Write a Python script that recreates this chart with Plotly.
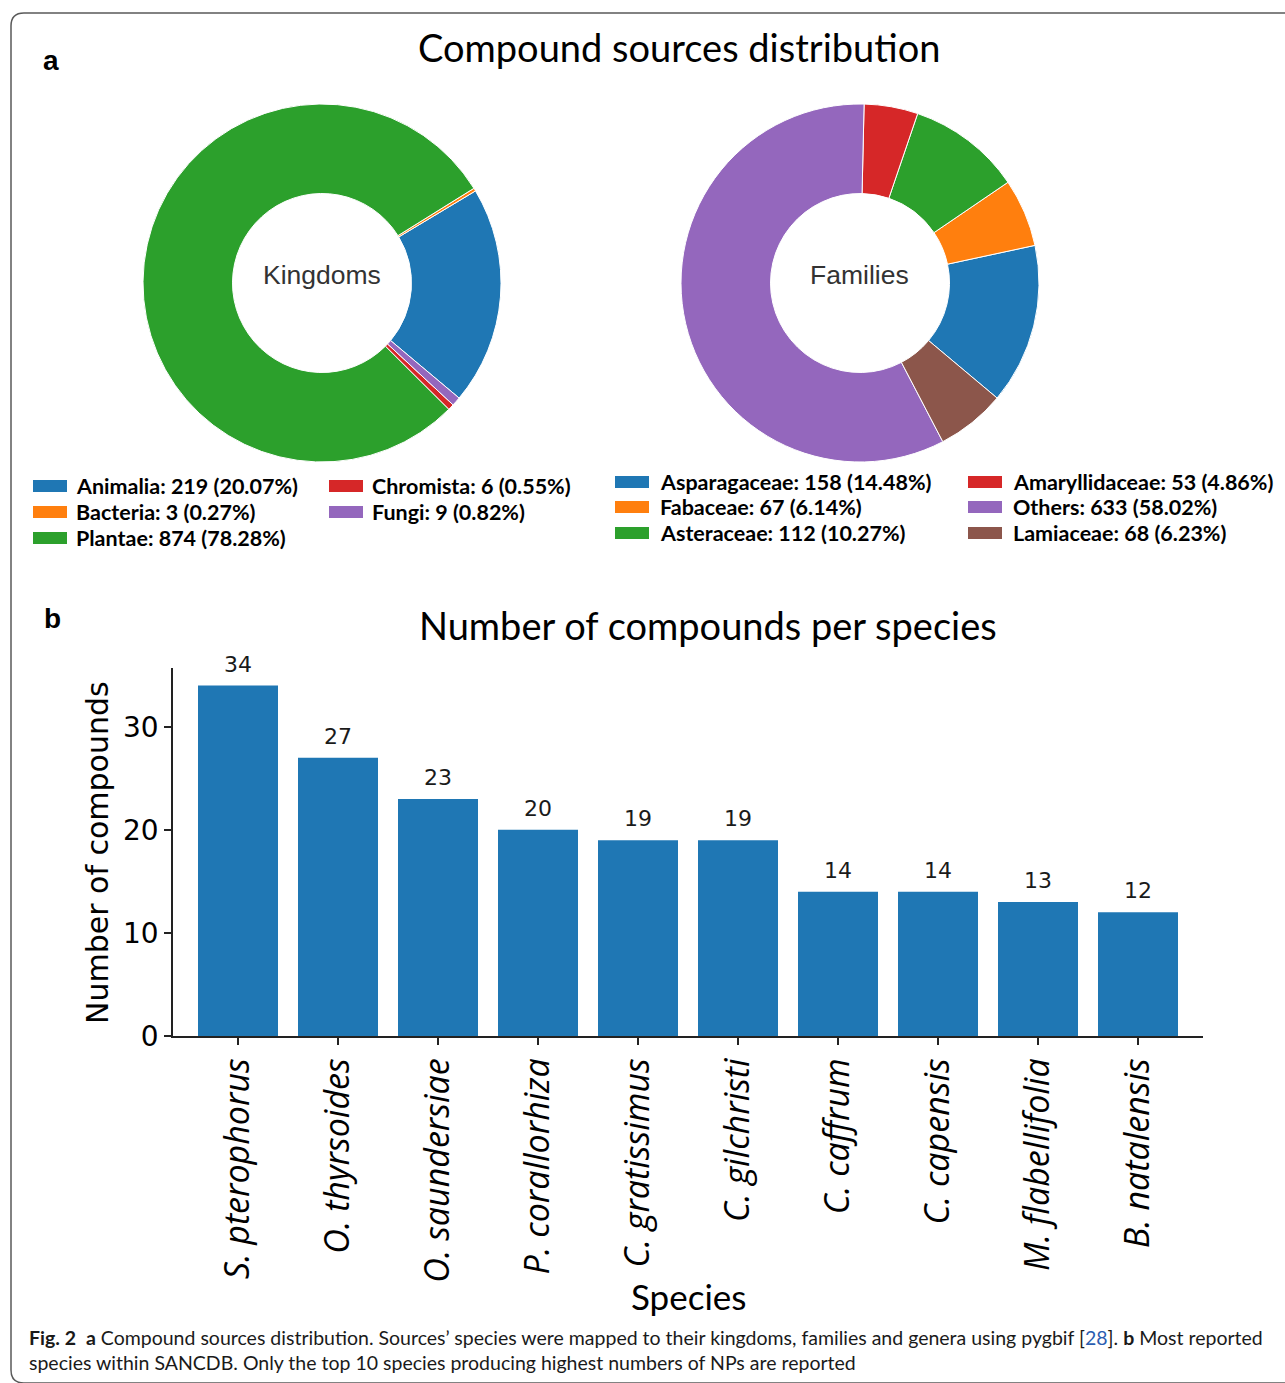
import plotly.graph_objects as go

W, H = 1285, 1383

# ---------------- data ----------------
kingdom_labels = ["Animalia", "Bacteria", "Plantae", "Chromista", "Fungi"]
kingdom_values = [219, 3, 874, 6, 9]
kingdom_pcts = ["20.07", "0.27", "78.28", "0.55", "0.82"]

family_labels = ["Asparagaceae", "Fabaceae", "Asteraceae", "Amaryllidaceae", "Others", "Lamiaceae"]
family_values = [158, 67, 112, 53, 633, 68]
family_pcts = ["14.48", "6.14", "10.27", "4.86", "58.02", "6.23"]

species = ["S. pterophorus", "O. thyrsoides", "O. saundersiae", "P. corallorhiza", "C. gratissimus",
           "C. gilchristi", "C. caffrum", "C. capensis", "M. flabellifolia", "B. natalensis"]
compounds = [34, 27, 23, 20, 19, 19, 14, 14, 13, 12]

tab10 = ["#1f77b4", "#ff7f0e", "#2ca02c", "#d62728", "#9467bd", "#8c564b"]

# first slice starts at -40 deg (math angle), slices proceed counterclockwise
START_DEG = -40


def px(x):
    return x / W


def py(y):
    return 1 - y / H


def rot_for(values):
    # plotly (counterclockwise): first slice ends at `rotation` (clockwise from 12 o'clock)
    first = 360.0 * values[0] / sum(values)
    return (90 - START_DEG) - first


fig = go.Figure()

# ---------------- pies ----------------
fig.add_trace(go.Pie(
    labels=kingdom_labels, values=kingdom_values, hole=0.5, sort=False,
    direction="counterclockwise", rotation=rot_for(kingdom_values), textinfo="none",
    marker=dict(colors=tab10[:5], line=dict(color="white", width=1)),
    domain=dict(x=[px(143), px(501)], y=[py(462), py(104)]),
    showlegend=False,
))
fig.add_trace(go.Pie(
    labels=family_labels, values=family_values, hole=0.5, sort=False,
    direction="counterclockwise", rotation=rot_for(family_values), textinfo="none",
    marker=dict(colors=tab10[:6], line=dict(color="white", width=1)),
    domain=dict(x=[px(681), px(1039)], y=[py(462), py(104)]),
    showlegend=False,
))

# ---------------- bars ----------------
fig.add_trace(go.Bar(
    x=list(range(len(species))), y=compounds, width=0.8,
    marker=dict(color="#1f77b4", line=dict(width=0)),
    showlegend=False, xaxis="x", yaxis="y",
))

annotations = []
shapes = []

for i, v in enumerate(compounds):
    annotations.append(dict(
        x=i, y=v, xref="x", yref="y", text=str(v), showarrow=False,
        xanchor="center", yanchor="bottom", yshift=7,
        font=dict(family="DejaVu Sans", size=22, color="#1a1a1a"),
    ))


# ---------------- manual legends ----------------
def add_legend(labels, values, pcts, colx, rows, textgap):
    for i, (lab, val, pct) in enumerate(zip(labels, values, pcts)):
        c = i // 3
        r = i % 3
        x0 = colx[c]
        yc = rows[r]
        shapes.append(dict(
            type="rect", xref="paper", yref="paper",
            x0=px(x0), x1=px(x0 + 34), y0=py(yc + 6), y1=py(yc - 6),
            fillcolor=tab10[i], line=dict(width=0),
        ))
        annotations.append(dict(
            x=px(x0 + 34 + textgap), y=py(yc), xref="paper", yref="paper",
            text=f"<b>{lab}: {val} ({pct}%)</b>", showarrow=False,
            xanchor="left", yanchor="middle",
            font=dict(family="Lato", size=21.5, color="black"),
        ))


add_legend(kingdom_labels, kingdom_values, kingdom_pcts, [33, 329], [486, 512, 538], 7)
add_legend(family_labels, family_values, family_pcts, [615, 968], [482, 507, 533], 9)


def label(x, y, text, family, size, color="black", xanchor="center", angle=0):
    annotations.append(dict(
        x=px(x), y=py(y), xref="paper", yref="paper", text=text, showarrow=False,
        xanchor=xanchor, yanchor="middle", textangle=angle,
        font=dict(family=family, size=size, color=color),
    ))


# ---------------- texts ----------------
label(322, 275, "Kingdoms", "Liberation Sans", 26.5, "#333333")
label(860, 275, "Families", "Liberation Sans", 26.5, "#333333")
label(679, 47, "Compound sources distribution", "Lato", 38)
label(708, 625, "Number of compounds per species", "Lato", 38)
label(51, 60, "<b>a</b>", "Liberation Sans", 28)
label(52, 618, "<b>b</b>", "Liberation Sans", 28)
label(97, 853, "Number of compounds", "DejaVu Sans", 30, angle=-90)
label(688, 1296, "Species", "Lato", 35)
label(27, 1337,
      "<b>Fig. 2</b>  <b>a</b> Compound sources distribution. Sources\u2019 species were mapped to their "
      "kingdoms, families and genera using pygbif [<span style='color:#2a5db0'>28</span>]. "
      "<b>b</b> Most reported", "Lato", 19.5, "#1a1a1a", xanchor="left")
label(27, 1362,
      "species within SANCDB. Only the top 10 species producing highest numbers of NPs are reported",
      "Lato", 19.5, "#1a1a1a", xanchor="left")

# border
shapes.append(dict(
    type="path", xref="paper", yref="paper",
    path=(f"M {px(1295)},{py(13)} L {px(24)},{py(13)} Q {px(11)},{py(13)} {px(11)},{py(26)} "
          f"L {px(11)},{py(1370)} Q {px(11)},{py(1383)} {px(24)},{py(1383)} L {px(1295)},{py(1383)}"),
    line=dict(color="#5a5a5a", width=1.5),
))

fig.update_layout(
    width=W, height=H, autosize=False,
    margin=dict(l=0, r=0, t=0, b=0),
    paper_bgcolor="white", plot_bgcolor="white",
    showlegend=False,
    xaxis=dict(
        domain=[px(173), px(1203)], anchor="y", range=[-0.65, 9.65],
        tickmode="array", tickvals=list(range(len(species))),
        ticktext=[f"<i>{s}</i>" for s in species], tickangle=-90,
        tickfont=dict(family="Open Sans", size=34, color="black"),
        ticks="outside", ticklen=7, tickwidth=1.5, tickcolor="#222222",
        showline=True, linecolor="#222222", linewidth=1.5,
        showgrid=False, zeroline=False, automargin=False,
    ),
    yaxis=dict(
        domain=[py(1036), py(668)], anchor="x", range=[0, 35.7],
        tickmode="array", tickvals=[0, 10, 20, 30],
        tickfont=dict(family="DejaVu Sans", size=28, color="black"),
        ticks="outside", ticklen=7, tickwidth=1.5, tickcolor="#222222",
        showline=True, linecolor="#222222", linewidth=1.5,
        showgrid=False, zeroline=False, automargin=False,
    ),
    annotations=annotations,
    shapes=shapes,
)

fig.write_html("out.html")
